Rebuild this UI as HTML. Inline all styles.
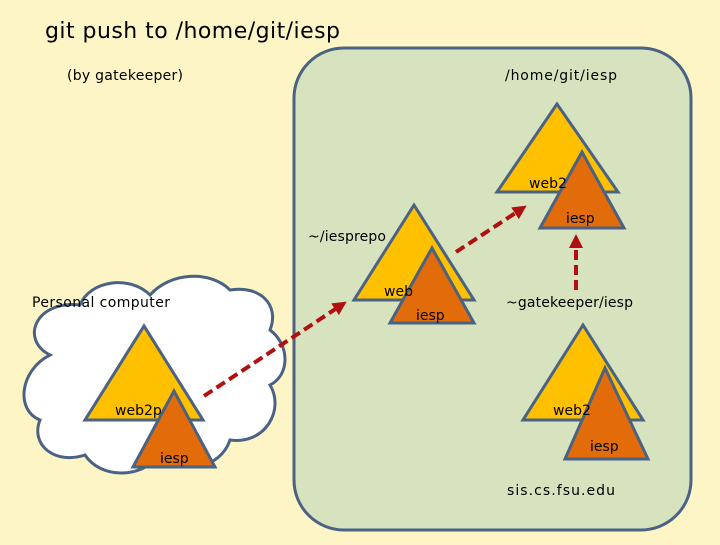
<!DOCTYPE html>
<html><head><style>
body{margin:0;width:720px;height:540px;overflow:hidden;background:#fdf5c6}
svg text{font-family:"DejaVu Sans",sans-serif;fill:#000}
</style></head><body>
<svg width="720" height="540" xmlns="http://www.w3.org/2000/svg">
<defs><marker id="ah" markerWidth="3.5" markerHeight="3.5" refX="1.5" refY="1.75" orient="auto" markerUnits="strokeWidth"><path d="M0,0 L3.5,1.75 L0,3.5 Z" fill="#b01010"/></marker></defs>
<rect x="0" y="0" width="720" height="540" fill="#fdf5c6"/>
<text x="45" y="38" font-size="22" textLength="295">git push to /home/git/iesp</text>
<text x="67" y="80" font-size="14" textLength="116">(by gatekeeper)</text>
<rect x="294" y="48" width="397" height="482" rx="50" fill="#d7e3bf" stroke="#4a6283" stroke-width="3"/>
<text x="505" y="80" font-size="14" textLength="112">/home/git/iesp</text>
<path d="M50,355 C20,340 35,300 80,305 C90,280 130,275 150,295 C170,272 210,270 230,290 C260,285 280,305 270,330 C290,345 290,375 270,385 C285,410 265,445 230,440 C220,470 180,475 160,455 C140,480 100,478 85,455 C55,465 30,445 40,420 C15,410 20,370 50,355 Z" fill="#fff" stroke="#4a6283" stroke-width="3"/>
<text x="32" y="307" font-size="14" textLength="138">Personal computer</text>
<g stroke="#4a6283" stroke-width="3" stroke-linejoin="miter">
<polygon points="144,326 85,420 203,420" fill="#ffc000"/>
<polygon points="174,391 133,467 215,467" fill="#e36c0a"/>
<polygon points="414,205 354,300 474,300" fill="#ffc000"/>
<polygon points="432,248 390,323 474,323" fill="#e36c0a"/>
<polygon points="557,104 497,192 618,192" fill="#ffc000"/>
<polygon points="582,152 540,228 624,228" fill="#e36c0a"/>
<polygon points="583,325 523,420 643,420" fill="#ffc000"/>
<polygon points="605,368 565,459 648,459" fill="#e36c0a"/>
</g>
<g font-size="14">
<text x="115" y="415">web2p</text>
<text x="160" y="463">iesp</text>
<text x="384" y="296">web</text>
<text x="416" y="320">iesp</text>
<text x="529" y="188">web2</text>
<text x="566" y="223">iesp</text>
<text x="553" y="415">web2</text>
<text x="590" y="451">iesp</text>
<text x="308" y="241" textLength="78">~/iesprepo</text>
<text x="506" y="307" textLength="127">~gatekeeper/iesp</text>
<text x="507" y="495" textLength="108">sis.cs.fsu.edu</text>
</g>
<g stroke="#b01010" stroke-width="4" stroke-dasharray="10,5" fill="none">
<line x1="204" y1="396" x2="340" y2="306" marker-end="url(#ah)"/>
<line x1="456" y1="252" x2="520" y2="210" marker-end="url(#ah)"/>
<line x1="576" y1="290" x2="576" y2="242" marker-end="url(#ah)"/>
</g>
</svg>
</body></html>
